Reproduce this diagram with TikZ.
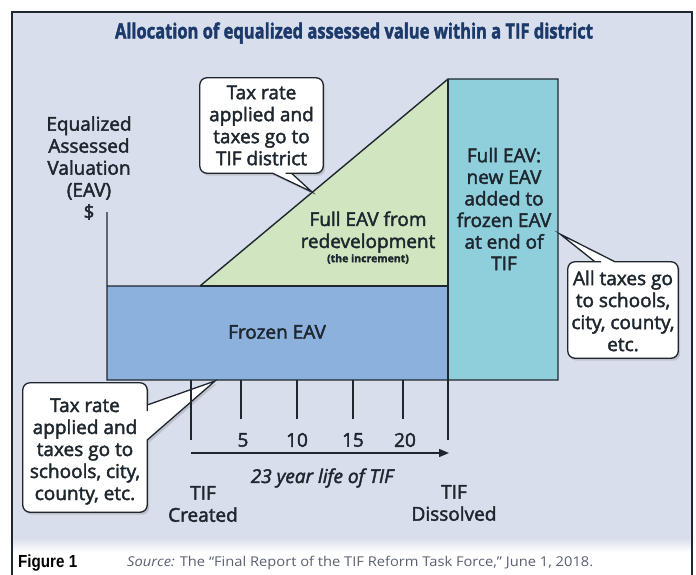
\documentclass[tikz,border=0pt]{standalone}
\usepackage{fontspec}
\setmainfont{Open Sans}[FakeBold=2.2]
\newfontfamily\srcfont{Open Sans}
\newfontfamily\figfont{Liberation Sans}
\usepackage{graphicx}
\usepackage{xcolor}
\usetikzlibrary{arrows.meta,calc,shadows}

\definecolor{panelbg}{RGB}{216,222,236}
\definecolor{frozenblue}{RGB}{141,177,221}
\definecolor{incgreen}{RGB}{209,230,192}
\definecolor{fullteal}{RGB}{143,206,219}
\definecolor{inkdark}{RGB}{30,38,46}
\definecolor{titlenavy}{RGB}{27,58,107}
\definecolor{srcgrey}{RGB}{88,96,112}

\begin{document}
\begin{tikzpicture}[x=1pt, y=-1pt,
  every node/.style={font=\fontsize{19}{22}\selectfont, text=inkdark, inner sep=0pt},
  outline/.style={draw=inkdark, line width=1.4pt},
  boxspace/.style={inner sep=0pt},
  callout/.style={draw=inkdark, line width=1.3pt, fill=white, line join=miter,
    drop shadow={opacity=0.3, shadow xshift=2pt, shadow yshift=-2.5pt}}]
  \useasboundingbox (0,0) rectangle (696,575);
  % panel and frame
  \fill[panelbg] (12,12) rectangle (692,538);
  \shade[top color=panelbg, middle color=panelbg!78!black, bottom color=white] (12,538) rectangle (692,552);
  \draw[inkdark, line width=1.2pt] (12,575) -- (12,12) -- (692,12) -- (692,575);
  \node[text=titlenavy] (title) at (354,33) {\resizebox{478pt}{\height}{\fontsize{21}{21}\selectfont\bfseries Allocation of equalized assessed value within a TIF district}};

  % areas
  \fill[frozenblue] (107,286) rectangle (448,380);
  \fill[incgreen] (200,286) -- (448,79) -- (448,286) -- cycle;
  \fill[fullteal] (448,79) rectangle (558,380);
  \draw[outline] (107,212) -- (107,380) -- (558,380) -- (558,79) -- (448,79) -- (200,286) -- (107,286);
  \draw[outline] (448,79) -- (448,380);
  \draw[outline] (200,286) -- (448,286);

  \node[align=center] (eavAxis) at (89,168) {Equalized\\Assessed\\Valuation\\(EAV)\\\$};
  \node (frozen) at (277,332) {Frozen EAV};
  \node[align=center] (increment) at (368,232) {Full EAV from\\redevelopment};
  \node[font=\fontsize{10.5}{12}\selectfont\bfseries] (incNote) at (368,259) {(the increment)};
  \node[align=center, font=\fontsize{19}{21.6}\selectfont] (fullEav) at (504,209) {Full EAV:\\new EAV\\added to\\frozen EAV\\at end of\\TIF};

  % callout: TIF district
  \node[boxspace, minimum width=123pt, minimum height=95pt] (callTif) at (261.5,125.5) {};
  \coordinate (tipTif) at (312,192);
  \filldraw[callout] (callTif.north) [rounded corners=7pt] -- (callTif.north east) -- (callTif.south east)
    -- ([xshift=31pt]callTif.south) [sharp corners] -- ([xshift=30pt]callTif.south) -- (tipTif)
    -- ([xshift=11pt]callTif.south) -- ([xshift=10pt]callTif.south) [rounded corners=7pt]
    -- (callTif.south west) -- (callTif.north west) -- cycle;
  \node[align=center] (callTifText) at (callTif.center) {Tax rate\\applied and\\taxes go to\\TIF district};

  % callout: all taxes
  \node[boxspace, minimum width=110pt, minimum height=96pt] (callAll) at (623,310) {};
  \coordinate (tipAll) at (560,234);
  \filldraw[callout] (callAll.south) [rounded corners=7pt] -- (callAll.south west) -- (callAll.north west)
    -- ([xshift=-29pt]callAll.north) [sharp corners] -- ([xshift=-28pt]callAll.north) -- (tipAll)
    -- ([xshift=-8pt]callAll.north) -- ([xshift=-7pt]callAll.north) [rounded corners=7pt]
    -- (callAll.north east) -- (callAll.south east) -- cycle;
  \node[align=center] (callAllText) at ([yshift=-1pt]callAll.center) {All taxes go\\to schools,\\city, county,\\etc.};

  % callout: frozen taxes
  \node[boxspace, minimum width=124pt, minimum height=129pt] (callTax) at (85,447.5) {};
  \coordinate (tipTax) at (215,381);
  \filldraw[callout] (callTax.west) [rounded corners=7pt] -- (callTax.north west) -- (callTax.north east)
    -- ([yshift=43.5pt]callTax.east) [sharp corners] -- ([yshift=42.5pt]callTax.east) -- (tipTax)
    -- ([yshift=7.5pt]callTax.east) -- ([yshift=6.5pt]callTax.east) [rounded corners=7pt]
    -- (callTax.south east) -- (callTax.south west) -- cycle;
  \node[align=center] (callTaxText) at ([yshift=-4pt]callTax.center) {Tax rate\\applied and\\taxes go to\\schools, city,\\county, etc.};

  % time line
  \foreach \x/\y in {191/440, 241/419, 297/419, 353/419, 403/419, 448/440}
    \draw[outline] (\x,380) -- (\x,\y);
  \foreach \x/\n in {243/5, 297/10, 353/15, 405/20}
    \node (year\n) at (\x,440) {\n};
  \coordinate (lifeStart) at (191,453);
  \coordinate (lifeEnd) at (449,453);
  \draw[outline, -{Triangle[length=10pt,width=8pt]}] (lifeStart) -- (lifeEnd);
  \node[font=\fontsize{19}{22}\selectfont\itshape] (life) at (322,478) {23 year life of TIF};
  \node[align=center] (created) at (203,504) {TIF\\Created};
  \node[align=center] (dissolved) at (454,503) {TIF\\Dissolved};

  % caption
  \node[anchor=west, text=black, font=\figfont\bfseries\fontsize{17.5}{18}\selectfont] (figNum) at (18,563) {\resizebox{59pt}{\height}{Figure 1}};
  \node[anchor=west, text=srcgrey, font=\srcfont\fontsize{13.5}{14}\selectfont] (source) at (127,563) {\resizebox{466pt}{\height}{\textit{Source:} The “Final Report of the TIF Reform Task Force,” June 1, 2018.}};
\end{tikzpicture}
\end{document}
